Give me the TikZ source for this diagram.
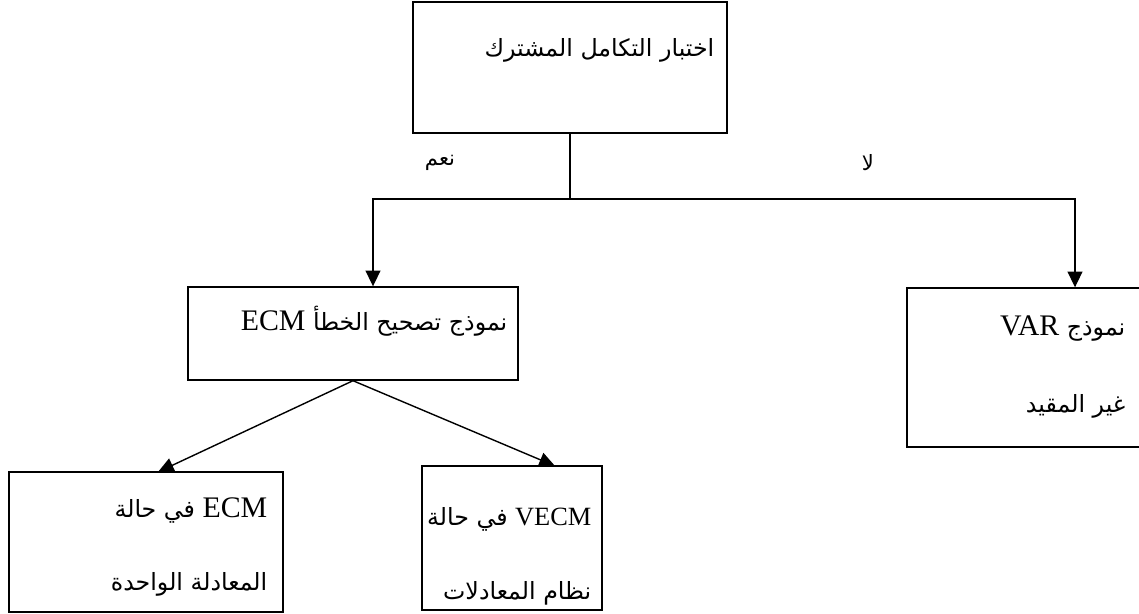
\documentclass[tikz,border=0pt]{standalone}
\usepackage{fontspec}
\setmainfont{Liberation Serif}
\newfontfamily\arabicfont[Script=Arabic]{DejaVu Sans}
\TeXXeTstate=1
\usetikzlibrary{arrows.meta,positioning}

\begin{document}
\begin{tikzpicture}[x=0.02cm, y=-0.02cm, >={Triangle[length=9pt,width=8.5pt]}, line width=0.8pt,
    box/.style={draw, rectangle, inner sep=0pt},
    lbl/.style={font=\arabicfont\fontsize{13.5}{16}\selectfont, inner sep=0pt, anchor=east},
    yesno/.style={font=\arabicfont\fontsize{12}{14}\selectfont, inner sep=0pt}]
    \useasboundingbox (0,0) rectangle (1139,613);

    % 方框
    \node[box, minimum width=6.28cm, minimum height=2.62cm] (test) at (570,67.5) {};
    \node[box, minimum width=6.6cm, minimum height=1.86cm] (ecm) at (353,333.5) {};
    \node[box, minimum width=4.86cm, minimum height=3.18cm] (var) at (1028.5,367.5) {};
    \node[box, minimum width=5.48cm, minimum height=2.8cm] (single) at (146,542) {};
    \node[box, minimum width=3.6cm, minimum height=2.88cm] (system) at (512,538) {};

    % 文字
    \node[lbl] (testtxt) at (715,50) {\beginR اختبار التكامل المشترك\endR};
    \node[lbl] (ecmtxt) at (508,321) {\beginR نموذج تصحيح الخطأ \beginL{\rmfamily\fontsize{17}{20}\selectfont ECM}\endL\endR};
    \node[lbl] (vartxt) at (1126,329) {\beginR نموذج \beginL{\rmfamily\fontsize{17}{20}\selectfont VAR}\endL\endR};
    \node[lbl] (vartxtb) at (1126,406) {\beginR غير المقيد\endR};
    \node[lbl] (singletxt) at (268,510) {\beginR\beginL{\rmfamily\fontsize{17}{20}\selectfont ECM}\endL{} في حالة\endR};
    \node[lbl] (singletxtb) at (268,584) {\beginR المعادلة الواحدة\endR};
    \node[lbl] (systemtxt) at (592,519) {\beginR\beginL{\rmfamily\fontsize{15}{18}\selectfont VECM}\endL{} في حالة\endR};
    \node[lbl] (systemtxtb) at (592,593) {\beginR نظام المعادلات\endR};

    % 是 / 否
    \node[yesno] (yes) at (440,163) {\beginR نعم\endR};
    \node[yesno] (no) at (868,163) {\beginR لا\endR};

    % 连线
    \coordinate (fork) at (test.south |- 0,199);
    \coordinate (yesend) at (373,199);
    \coordinate (noend) at (1075,199);
    \draw (test.south) -- (fork);
    \draw[->] (fork) -- (yesend) -- (yesend |- ecm.north);
    \draw[->] (fork) -- (noend) -- (noend |- var.north);
    \draw[->] (ecm.south) -- (158,472);
    \draw[->] (ecm.south) -- (555,466);
\end{tikzpicture}
\end{document}
